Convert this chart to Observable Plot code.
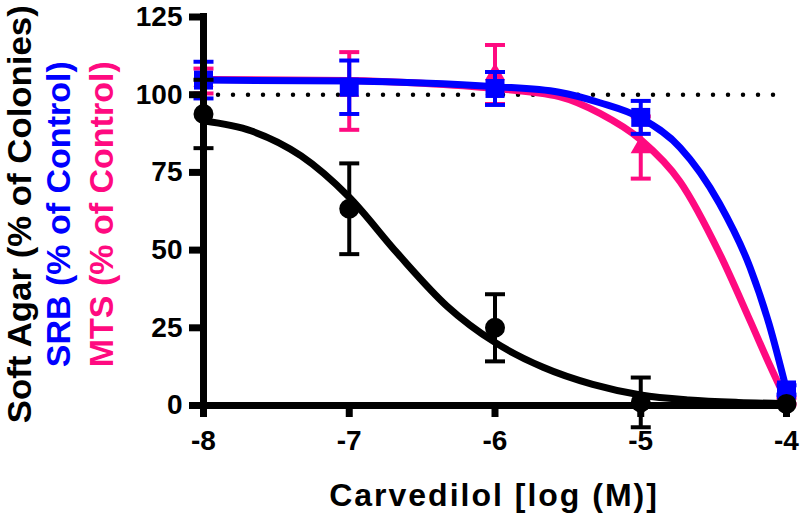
<!DOCTYPE html>
<html><head><meta charset="utf-8">
<script src="https://cdn.jsdelivr.net/npm/d3@7"></script>
<script src="https://cdn.jsdelivr.net/npm/@observablehq/plot@0.6"></script>
<style>body{margin:0;background:#fff;}</style>
</head><body><div id="chart"></div>
<script>
// ---- data ----
const doses = [-8, -7, -6, -5, -4];
const xTickLabels = ["-8", "-7", "-6", "-5", "-4"];
const yTicks = [0, 25, 50, 75, 100, 125];
const yTickLabels = ["0", "25", "50", "75", "100", "125"];

const softAgarMean = [93.8, 63.3, 25, 1, 0.5];
const softAgarErr  = [11, 14.6, 10.8, 8, 0];
const srbMean = [104.7, 102.4, 102, 92.7, 5];
const srbErr  = [5.9, 8.6, 5.3, 5.3, 1.5];
const mtsMean = [104.4, 101.2, 106.5, 83, 1.5];
const mtsErr  = [4, 12.5, 9.5, 10, 1];

const controlLevel = 100;

// fitted curves
const softAgarFitX = [-8, -7.67, -7.33, -7, -6.67, -6.33, -6, -5.67, -5.33, -5, -4.67, -4.33, -4];
const softAgarFitY = [91.6, 88.3, 80.3, 67, 49, 32, 20.3, 12.3, 6.8, 3.4, 1.8, 1, 0.6];
const srbFitX = [-8, -7, -6.5, -6, -5.56, -5.28, -5, -4.73, -4.46, -4.25, -4.12, -4];
const srbFitY = [104.7, 104.4, 103.8, 102.6, 100.8, 97.4, 92.5, 83, 65, 44.4, 26.3, 5];
const mtsFitX = [-8, -7, -6.5, -6, -5.56, -5.28, -5, -4.73, -4.46, -4.25, -4.12, -4];
const mtsFitY = [104.9, 104.6, 103.7, 102, 99.4, 94, 85.5, 72, 49, 27.3, 13.5, 1.5];

const yTitles = ["Soft Agar (% of Colonies)", "SRB (% of Control)", "MTS (% of Control)"];
const xTitle = "Carvedilol [log (M)]";

// ---- styles ----
const BLACK = "#000000", BLUE = "#0000ff", PINK = "#ff0a80";

const pts = (m, e) => doses.map((x, i) => ({x, y: m[i], lo: m[i] - e[i], hi: m[i] + e[i], e: e[i]}));
const fit = (xs, ys) => xs.map((x, i) => ({x, y: ys[i]}));

const capSymbol = {draw(ctx, size) { const w = Math.sqrt(size / Math.PI); ctx.moveTo(-w, 0); ctx.lineTo(w, 0); }};

function series(p, c, color, symbol, r) {
  const eb = p.filter(d => d.e > 0);
  return [
    Plot.line(c, {x: "x", y: "y", stroke: color, strokeWidth: 7, curve: "monotone-x"}),
    Plot.ruleX(eb, {x: "x", y1: "lo", y2: "hi", stroke: color, strokeWidth: 4}),
    Plot.dot(eb, {x: "x", y: "hi", symbol: capSymbol, r: 10, stroke: color, strokeWidth: 4, fill: "none"}),
    Plot.dot(eb, {x: "x", y: "lo", symbol: capSymbol, r: 10, stroke: color, strokeWidth: 4, fill: "none"}),
    Plot.dot(p, {x: "x", y: "y", symbol, r, fill: color, stroke: "none"})
  ];
}

const chart = Plot.plot({
  width: 800, height: 518,
  marginLeft: 203, marginRight: 14, marginTop: 16.5, marginBottom: 113,
  style: {fontFamily: "'Liberation Sans', Arial, sans-serif", fontWeight: "bold", background: "#fff", color: "#000"},
  x: {domain: [-8, -4]},
  y: {domain: [0, 125]},
  marks: [
    Plot.ruleY([controlLevel], {stroke: BLACK, strokeWidth: 4.5, strokeDasharray: "0,15", strokeLinecap: "round"}),
    ...series(pts(mtsMean, mtsErr), fit(mtsFitX, mtsFitY), PINK, "triangle", 7.5),
    ...series(pts(srbMean, srbErr), fit(srbFitX, srbFitY), BLUE, "square", 10.7),
    ...series(pts(softAgarMean, softAgarErr), fit(softAgarFitX, softAgarFitY), BLACK, "circle", 10),
    Plot.ruleY([0], {stroke: BLACK, strokeWidth: 7, strokeLinecap: "square"}),
    Plot.ruleX([-8], {stroke: BLACK, strokeWidth: 7, strokeLinecap: "square"}),
    Plot.axisX({ticks: doses, tickFormat: d => xTickLabels[doses.indexOf(d)], tickSize: 12, tickPadding: 13, strokeWidth: 7, fontSize: 28, label: null}),
    Plot.axisY({ticks: yTicks, tickFormat: d => yTickLabels[yTicks.indexOf(d)], tickSize: 14, tickPadding: 7, strokeWidth: 7, fontSize: 28, label: null}),
    Plot.text([yTitles[0]], {text: d => d, frameAnchor: "left", rotate: -90, textAnchor: "middle", lineAnchor: "middle", dx: -183, dy: 3, fontSize: 34, fill: BLACK}),
    Plot.text([yTitles[1]], {text: d => d, frameAnchor: "left", rotate: -90, textAnchor: "middle", lineAnchor: "middle", dx: -144, dy: 3, fontSize: 34, fill: BLUE}),
    Plot.text([yTitles[2]], {text: d => d, frameAnchor: "left", rotate: -90, textAnchor: "middle", lineAnchor: "middle", dx: -101.5, dy: 3, fontSize: 34, fill: PINK}),
    Plot.text([xTitle], {text: d => d, frameAnchor: "bottom", textAnchor: "middle", lineAnchor: "middle", dx: -1, dy: 90, fontSize: 32, fill: BLACK})
  ]
});
const sel = d3.select(chart).selectAll("text");
sel.filter(function() { return this.textContent === xTitle; }).attr("letter-spacing", "2px");
sel.filter(function() { return this.textContent === yTitles[0]; }).attr("textLength", 418).attr("lengthAdjust", "spacingAndGlyphs");
document.getElementById("chart").appendChild(chart);
</script>
</body></html>
